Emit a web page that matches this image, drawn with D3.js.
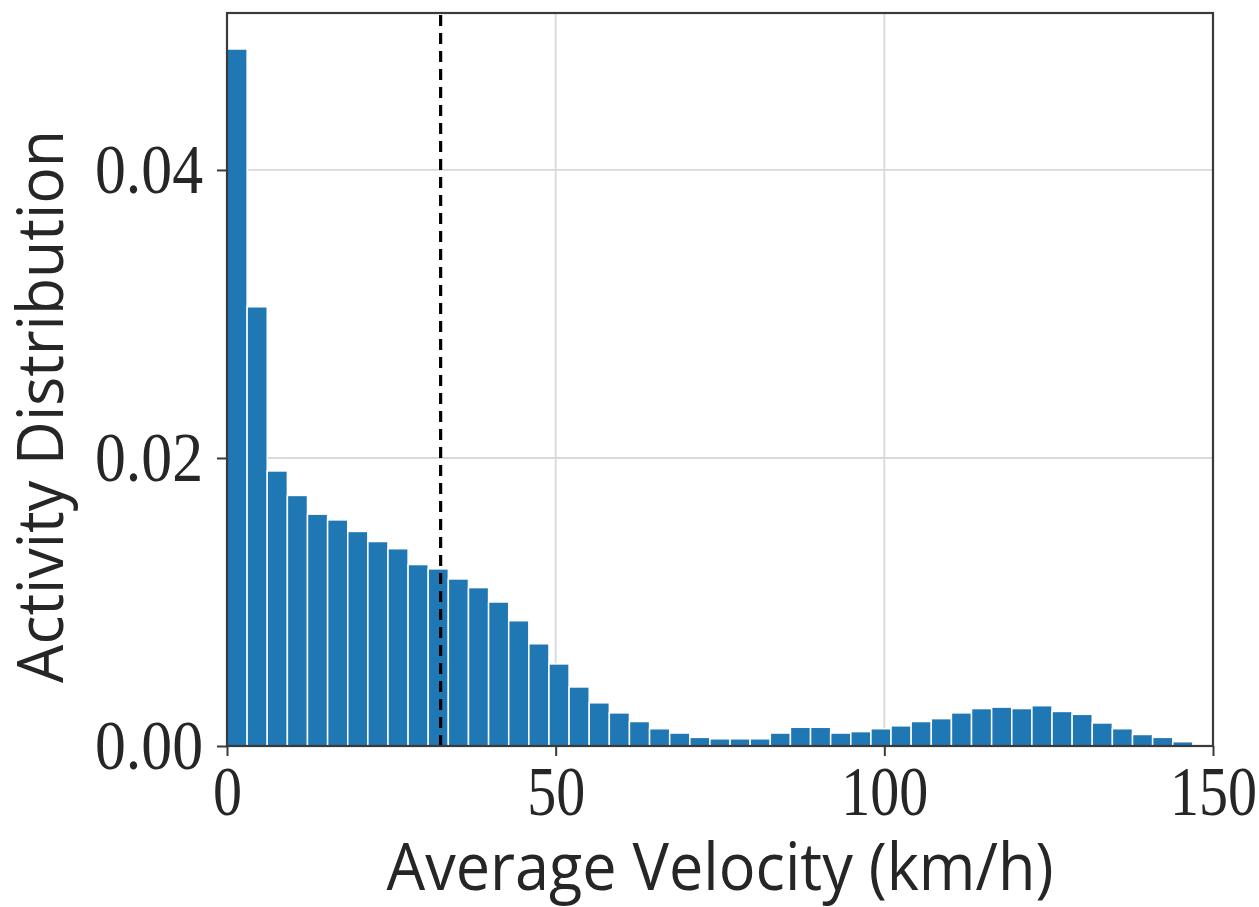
<!DOCTYPE html>
<html>
<head>
<meta charset="utf-8">
<script src="https://cdn.jsdelivr.net/npm/d3@7"></script>
<style>
  body { margin: 0; background: #fff; }
</style>
</head>
<body>
<div id="chart"></div>
<script>
// histogram of average velocity, 49 equal bins over 0-150 km/h
var xMax = 150;
var nBins = 49;
var density = [
  0.0484, 0.0305, 0.0191, 0.0174, 0.0161, 0.0157, 0.0149, 0.0142, 0.0137, 0.0126,
  0.0123, 0.0116, 0.0110, 0.0100, 0.0087, 0.0071, 0.0057, 0.0041, 0.0030, 0.0023,
  0.0017, 0.0012, 0.0009, 0.0006, 0.0005, 0.0005, 0.0005, 0.0009, 0.0013, 0.0013,
  0.0009, 0.0010, 0.0012, 0.0014, 0.0017, 0.0019, 0.0023, 0.0026, 0.0027, 0.0026,
  0.0028, 0.0024, 0.0022, 0.0016, 0.0012, 0.0008, 0.0006, 0.0003, 0.0001
];
var meanVelocity = 32.5;
var xTicks = [0, 50, 100, 150];
var yTicks = [0, 0.02, 0.04];
var yMax = 0.0509;

var W = 1259, H = 907;
var margin = {top: 13, right: 46, bottom: 161, left: 227};

var svg = d3.select("#chart")
  .append("svg")
    .attr("width", W)
    .attr("height", H);

var x = d3.scaleLinear()
  .domain([0, xMax])
  .range([margin.left, W - margin.right]);

var y = d3.scaleLinear()
  .domain([0, yMax])
  .range([H - margin.bottom, margin.top]);

var bins = density.map(function(d, i) {
  return {x0: i * xMax / nBins, x1: (i + 1) * xMax / nBins, v: d};
});

// grid
svg.append("g")
  .selectAll("line")
  .data(xTicks.slice(1, -1))
  .enter().append("line")
    .attr("x1", function(d) { return x(d); })
    .attr("x2", function(d) { return x(d); })
    .attr("y1", y(0))
    .attr("y2", y(yMax))
    .attr("stroke", "#d9d9d9")
    .attr("stroke-width", 1.8);

svg.append("g")
  .selectAll("line")
  .data(yTicks.slice(1))
  .enter().append("line")
    .attr("x1", x(0))
    .attr("x2", x(xMax))
    .attr("y1", function(d) { return y(d); })
    .attr("y2", function(d) { return y(d); })
    .attr("stroke", "#d9d9d9")
    .attr("stroke-width", 1.8);

// bars
svg.append("g")
  .selectAll("rect")
  .data(bins)
  .enter().append("rect")
    .attr("x", function(d) { return x(d.x0); })
    .attr("width", function(d) { return x(d.x1) - x(d.x0); })
    .attr("y", function(d) { return y(d.v); })
    .attr("height", function(d) { return y(0) - y(d.v); })
    .attr("fill", "#1f77b4")
    .attr("stroke", "#fff")
    .attr("stroke-width", 1.5);

// mean line
svg.append("line")
  .attr("x1", x(meanVelocity))
  .attr("x2", x(meanVelocity))
  .attr("y1", y(0))
  .attr("y2", y(yMax))
  .attr("stroke", "#000")
  .attr("stroke-width", 3.2)
  .attr("stroke-dasharray", "11,7");

// axes
var serif = "'Liberation Serif', 'DejaVu Serif', serif";

function fitTicks(sel, w) {
  sel.selectAll(".tick text")
    .attr("fill", "#262626")
    .style("font-family", serif)
    .style("font-size", "69px")
    .attr("lengthAdjust", "spacingAndGlyphs")
    .attr("textLength", function() {
      var t = d3.select(this).text();
      return t.replace(".", "").length * 29 + (t.indexOf(".") >= 0 ? 21 : 0);
    });
  sel.selectAll(".tick line").attr("stroke", "#3a3a3a").attr("stroke-width", 2);
  sel.select(".domain").remove();
}

var gx = svg.append("g")
  .attr("transform", "translate(0," + y(0) + ")")
  .call(d3.axisBottom(x).tickValues(xTicks).tickFormat(d3.format("d")).tickSize(10).tickPadding(10));
fitTicks(gx);

var gy = svg.append("g")
  .attr("transform", "translate(" + x(0) + ",0)")
  .call(d3.axisLeft(y).tickValues(yTicks).tickFormat(d3.format(".2f")).tickSize(10).tickPadding(14));
fitTicks(gy);

// frame
svg.append("rect")
  .attr("x", x(0))
  .attr("y", y(yMax))
  .attr("width", x(xMax) - x(0))
  .attr("height", y(0) - y(yMax))
  .attr("fill", "none")
  .attr("stroke", "#3a3a3a")
  .attr("stroke-width", 2.2);

// labels
svg.append("text")
  .attr("x", (x(0) + x(xMax)) / 2)
  .attr("y", 890)
  .attr("text-anchor", "middle")
  .attr("fill", "#262626")
  .style("font-family", "'Open Sans', 'DejaVu Sans', sans-serif")
  .style("font-size", "66px")
  .attr("lengthAdjust", "spacingAndGlyphs")
  .attr("textLength", 667)
  .text("Average Velocity (km/h)");

svg.append("text")
  .attr("transform", "translate(63,406.5) rotate(-90)")
  .attr("text-anchor", "middle")
  .attr("fill", "#262626")
  .style("font-family", "'Open Sans', 'DejaVu Sans', sans-serif")
  .style("font-size", "64px")
  .attr("lengthAdjust", "spacingAndGlyphs")
  .attr("textLength", 553)
  .text("Activity Distribution");
</script>
</body>
</html>
